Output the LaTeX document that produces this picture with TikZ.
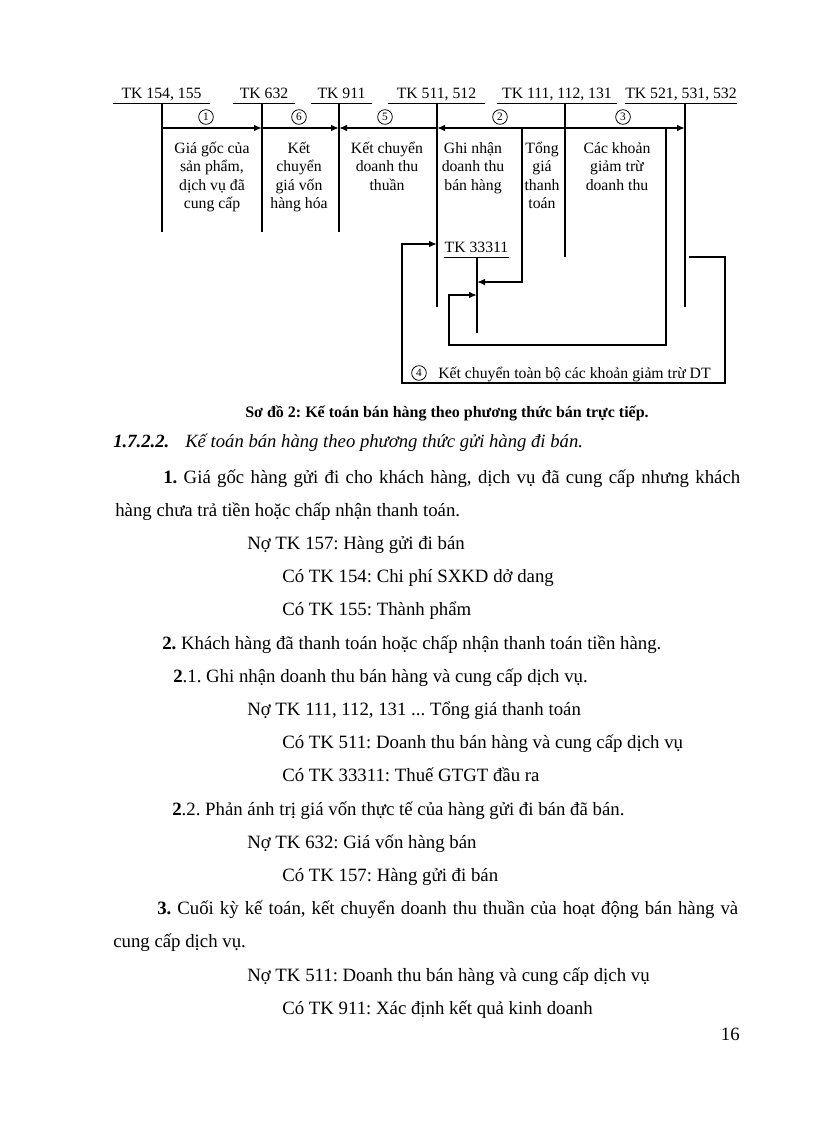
\documentclass[tikz,border=0pt]{standalone}
\usepackage{fontspec}
\setmainfont{Liberation Serif}
\usetikzlibrary{arrows.meta, positioning, calc}
\newcommand{\mstrut}{\rule{0pt}{13pt}}
\frenchspacing

\begin{document}
\begin{tikzpicture}[x=0.75pt, y=-0.75pt,
                font=\fontsize{11.8}{13.9}\selectfont,
                account/.style={inner sep=0pt, anchor=south, text depth=3pt, minimum width=#1},
                uline/.style={line width=0.6pt},
                tline/.style={line width=1.2pt},
                posting/.style={tline, -{Latex[length=6pt, width=5pt]}},
                memo/.style={align=center, anchor=north, inner sep=0pt},
                circled/.style={circle, draw, line width=0.6pt, inner sep=0pt, minimum size=11pt,
                                font=\fontsize{8.5}{9}\selectfont},
                bodyline/.style={font=\fontsize{14.1}{17}\selectfont, anchor=base west, inner sep=0pt}]
                % Page
                \fill[white] (0,0) rectangle (816,1123);
                \useasboundingbox (0,0) rectangle (816,1123);

                % Accounts - labels over the T lines
                \foreach \name/\txt/\cx/\w in {tk154/{TK 154, 155}/161.5/72.75pt,
                        tk632/{TK 632}/264/46.5pt, tk911/{TK 911}/341.5/45.75pt,
                        tk511/{TK 511, 512}/436.5/72.75pt, tk111/{TK 111, 112, 131}/557/90pt,
                        tk521/{TK 521, 531, 532}/681/84pt}
                {
                    \node[account=\w] (\name) at (\cx,103) {\txt};
                    \draw[uline] (\name.south west) -- (\name.south east);
                }
                \node[account=45.75pt] (tk33311) at (476.5,257) {TK 33311};
                \draw[uline] (tk33311.south west) -- (tk33311.south east);

                % T lines
                \foreach \acc/\x/\len in {154/162/129, 632/262/129, 911/339/129,
                        511/437/204, 111/565/154, 521/685/204}
                    \draw[tline] (\x,103) coordinate (l\acc) -- ++(0,\len);
                \draw[tline] (477,257) coordinate (l33311) -- ++(0,76);

                % Postings on the top row
                \coordinate (row) at (0,128);
                \draw[posting] (l154 |- row) -- (l632 |- row);
                \draw[posting] (l632 |- row) -- (l911 |- row);
                \draw[posting] (l511 |- row) -- (l911 |- row);
                \draw[posting] (l111 |- row) -- (l511 |- row);
                \draw[posting] (l111 |- row) -- (l521 |- row);

                \node[circled] (n1) at (206,117) {1};
                \node[circled] (n6) at (299,117) {6};
                \node[circled] (n5) at (385,117) {5};
                \node[circled] (n2) at (500,117) {2};
                \node[circled] (n3) at (623,117) {3};

                % Notes under the row
                \node[memo] (m1) at (212,135.7) {\mstrut Giá gốc của\\sản phẩm,\\dịch vụ đã\\cung cấp};
                \node[memo] (m6) at (299,135.7) {\mstrut Kết\\chuyển\\giá vốn\\hàng hóa};
                \node[memo] (m5) at (387,135.7) {\mstrut Kết chuyển\\doanh thu\\thuần};
                \node[memo] (m2) at (473,135.7) {\mstrut Ghi nhận\\doanh thu\\bán hàng};
                \node[memo] (mt) at (542,135.7) {\mstrut Tổng\\giá\\thanh\\toán};
                \node[memo] (m3) at (617,135.7) {\mstrut Các khoản\\giảm trừ\\doanh thu};

                % VAT postings into TK 33311
                \coordinate (tong) at (522,128);
                \coordinate (giam) at (666,128);
                \draw[posting] (tong) |- ($(l33311)+(0,25)$);
                \draw[posting] (giam) |- (449,345) |- ($(l33311)+(0,38)$);

                % Closing of the deductions
                \coordinate (k4) at (689,257);
                \draw[posting] (k4) -| (725,383) -| (402,244) -- (l511 |- 0,244);
                \node[circled] (n4) at (419,373) {4};
                \node[anchor=base west, inner sep=0pt] (t4) at (438,378) {Kết chuyển toàn bộ các khoản giảm trừ DT};

                % Caption and text
                \node[anchor=base west, inner sep=0pt, font=\fontsize{12}{14}\selectfont\bfseries] (cap) at (245,417)
                    {Sơ đồ 2: Kế toán bán hàng theo phương thức bán trực tiếp.};
                \node[bodyline, font=\fontsize{14}{17}\selectfont\bfseries\itshape] (hd) at (113,447) {1.7.2.2.};
                \node[bodyline, font=\fontsize{14}{17}\selectfont\itshape] (hdt) at (185,447)
                    {Kế toán bán hàng theo phương thức gửi hàng đi bán.};

                \node[bodyline] (p0) at (163,483) {\makebox[432.75pt][s]{\textbf{1.} Giá gốc hàng gửi đi cho khách hàng, dịch vụ đã cung cấp nhưng khách}};
                \node[bodyline] (p1) at (115,516.2) {hàng chưa trả tiền hoặc chấp nhận thanh toán.};
                \node[bodyline] (p2) at (247,549.4) {Nợ TK 157: Hàng gửi đi bán};
                \node[bodyline] (p3) at (282,582.6) {Có TK 154: Chi phí SXKD dở dang};
                \node[bodyline] (p4) at (282,615.8) {Có TK 155: Thành phẩm};
                \node[bodyline] (p5) at (162,649) {\textbf{2.} Khách hàng đã thanh toán hoặc chấp nhận thanh toán tiền hàng.};
                \node[bodyline] (p6) at (173,682.2) {\textbf{2}.1. Ghi nhận doanh thu bán hàng và cung cấp dịch vụ.};
                \node[bodyline] (p7) at (247,715.4) {Nợ TK 111, 112, 131 ... Tổng giá thanh toán};
                \node[bodyline] (p8) at (282,748.6) {Có TK 511: Doanh thu bán hàng và cung cấp dịch vụ};
                \node[bodyline] (p9) at (282,781.8) {Có TK 33311: Thuế GTGT đầu ra};
                \node[bodyline] (p10) at (172,815) {\textbf{2}.2. Phản ánh trị giá vốn thực tế của hàng gửi đi bán đã bán.};
                \node[bodyline] (p11) at (247,848.2) {Nợ TK 632: Giá vốn hàng bán};
                \node[bodyline] (p12) at (282,881.4) {Có TK 157: Hàng gửi đi bán};
                \node[bodyline] (p13) at (157,914.6) {\makebox[435.75pt][s]{\textbf{3.} Cuối kỳ kế toán, kết chuyển doanh thu thuần của hoạt động bán hàng và}};
                \node[bodyline] (p14) at (113,947.8) {cung cấp dịch vụ.};
                \node[bodyline] (p15) at (247,981) {Nợ TK 511: Doanh thu bán hàng và cung cấp dịch vụ};
                \node[bodyline] (p16) at (282,1014.2) {Có TK 911: Xác định kết quả kinh doanh};
                \node[bodyline, anchor=base east] (pg) at (740,1040) {16};
\end{tikzpicture}
\end{document}
